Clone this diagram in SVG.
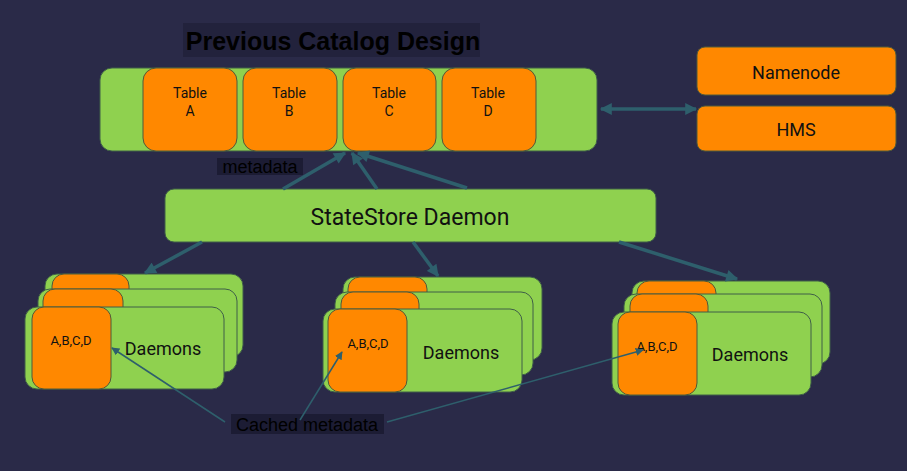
<svg xmlns="http://www.w3.org/2000/svg" width="907" height="471" viewBox="0 0 907 471">
<style>
.g{fill:#8fd14f;stroke:#3f5f48;stroke-width:1}
.o{fill:#ff8800;stroke:#4f5a3a;stroke-width:1}
.t{font-family:Roboto,"Liberation Sans",sans-serif;fill:#111;text-anchor:middle;dominant-baseline:central}
.lbl{font-family:"Liberation Sans",Arial,sans-serif;fill:#000;text-anchor:middle;dominant-baseline:central}
.thick{stroke:#2e5f6c;stroke-width:3.5;fill:none}
.thin{stroke:#2e5f6c;stroke-width:1.5;fill:none}
</style>
<defs>
<marker id="ah" viewBox="0 0 10 10" refX="9" refY="5" markerUnits="userSpaceOnUse" markerWidth="13" markerHeight="12" orient="auto-start-reverse">
<path d="M0,0 L10,5 L0,10 z" fill="#2e5f6c"/>
</marker>
<marker id="as" viewBox="0 0 10 10" refX="9" refY="5" markerUnits="userSpaceOnUse" markerWidth="8" markerHeight="8" orient="auto">
<path d="M0,0 L10,5 L0,10 z" fill="#2e5f6c"/>
</marker>
</defs>
<rect width="907" height="471" fill="#2a2a48"/>

<g id="title">
<rect x="183" y="23" width="297" height="34" fill="#22223c"/>
<text class="lbl" x="333" y="41" font-size="25" font-weight="bold">Previous Catalog Design</text>
</g>

<g id="catalog">
<rect class="g" x="100" y="68" width="497" height="83" rx="12"/>
<rect class="o" x="143" y="68" width="94" height="83" rx="13"/>
<rect class="o" x="243" y="68" width="94" height="83" rx="13"/>
<rect class="o" x="343" y="68" width="93" height="83" rx="13"/>
<rect class="o" x="442" y="68" width="94" height="83" rx="13"/>
<text class="t" font-size="14"><tspan x="190" y="93">Table</tspan><tspan x="190" y="111">A</tspan></text>
<text class="t" font-size="14"><tspan x="289" y="93">Table</tspan><tspan x="289" y="111">B</tspan></text>
<text class="t" font-size="14"><tspan x="389" y="93">Table</tspan><tspan x="389" y="111">C</tspan></text>
<text class="t" font-size="14"><tspan x="488" y="93">Table</tspan><tspan x="488" y="111">D</tspan></text>
</g>

<g id="namenode">
<rect class="o" x="697" y="47" width="199" height="48" rx="8"/>
<text class="t" x="796" y="72" font-size="18">Namenode</text>
</g>
<g id="hms">
<rect class="o" x="697" y="106" width="199" height="45" rx="8"/>
<text class="t" x="796" y="129" font-size="18">HMS</text>
</g>

<g id="statestore">
<rect class="g" x="165" y="189" width="491" height="53" rx="9"/>
<text class="t" x="410" y="217" font-size="23">StateStore Daemon</text>
</g>

<g id="daemons-left">
<rect class="g" x="45" y="274" width="198" height="83" rx="12"/>
<rect class="o" x="52" y="274" width="77" height="83" rx="12"/>
<rect class="g" x="38" y="289" width="199" height="83" rx="12"/>
<rect class="o" x="43" y="289" width="80" height="83" rx="12"/>
<rect class="g" x="25" y="307" width="199" height="82" rx="12"/>
<rect class="o" x="32" y="307" width="79" height="82" rx="12"/>
<text class="t" x="71" y="340" font-size="13">A,B,C,D</text>
<text class="t" x="163" y="348" font-size="18">Daemons</text>
</g>

<g id="daemons-middle">
<rect class="g" x="343" y="277" width="199" height="83" rx="12"/>
<rect class="o" x="348" y="277" width="79" height="83" rx="12"/>
<rect class="g" x="335" y="292" width="198" height="83" rx="12"/>
<rect class="o" x="341" y="292" width="78" height="83" rx="12"/>
<rect class="g" x="323" y="309" width="199" height="83" rx="12"/>
<rect class="o" x="328" y="309" width="79" height="83" rx="12"/>
<text class="t" x="368" y="343" font-size="13">A,B,C,D</text>
<text class="t" x="461" y="352" font-size="18">Daemons</text>
</g>

<g id="daemons-right">
<rect class="g" x="632" y="281" width="198" height="83" rx="12"/>
<rect class="o" x="637" y="281" width="79" height="83" rx="12"/>
<rect class="g" x="624" y="294" width="198" height="83" rx="12"/>
<rect class="o" x="630" y="294" width="78" height="83" rx="12"/>
<rect class="g" x="612" y="312" width="199" height="83" rx="12"/>
<rect class="o" x="618" y="312" width="79" height="83" rx="12"/>
<text class="t" x="657" y="346" font-size="13">A,B,C,D</text>
<text class="t" x="750" y="354" font-size="18">Daemons</text>
</g>

<g id="labels">
<rect x="217" y="158" width="86" height="17" fill="#1c1c34"/>
<text class="lbl" x="260" y="167" font-size="18">metadata</text>
<rect x="231" y="414" width="153" height="20" fill="#1c1c34"/>
<text class="lbl" x="307" y="425" font-size="18">Cached metadata</text>
</g>

<g id="connectors">
<line class="thick" x1="601" y1="109" x2="696" y2="109" marker-start="url(#ah)" marker-end="url(#ah)"/>
<line class="thick" x1="283" y1="189" x2="345" y2="153" marker-end="url(#ah)"/>
<line class="thick" x1="377" y1="189" x2="352" y2="153" marker-end="url(#ah)"/>
<line class="thick" x1="467" y1="188" x2="358" y2="153" marker-end="url(#ah)"/>
<line class="thick" x1="202" y1="242" x2="145" y2="273" marker-end="url(#ah)"/>
<line class="thick" x1="413" y1="242" x2="438" y2="276" marker-end="url(#ah)"/>
<line class="thick" x1="619" y1="242" x2="737" y2="279" marker-end="url(#ah)"/>
<line class="thin" x1="225" y1="422" x2="112" y2="348" marker-end="url(#as)"/>
<line class="thin" x1="300" y1="420" x2="342" y2="352" marker-end="url(#as)"/>
<line class="thin" x1="387" y1="422" x2="643" y2="350" marker-end="url(#as)"/>
</g>
</svg>
